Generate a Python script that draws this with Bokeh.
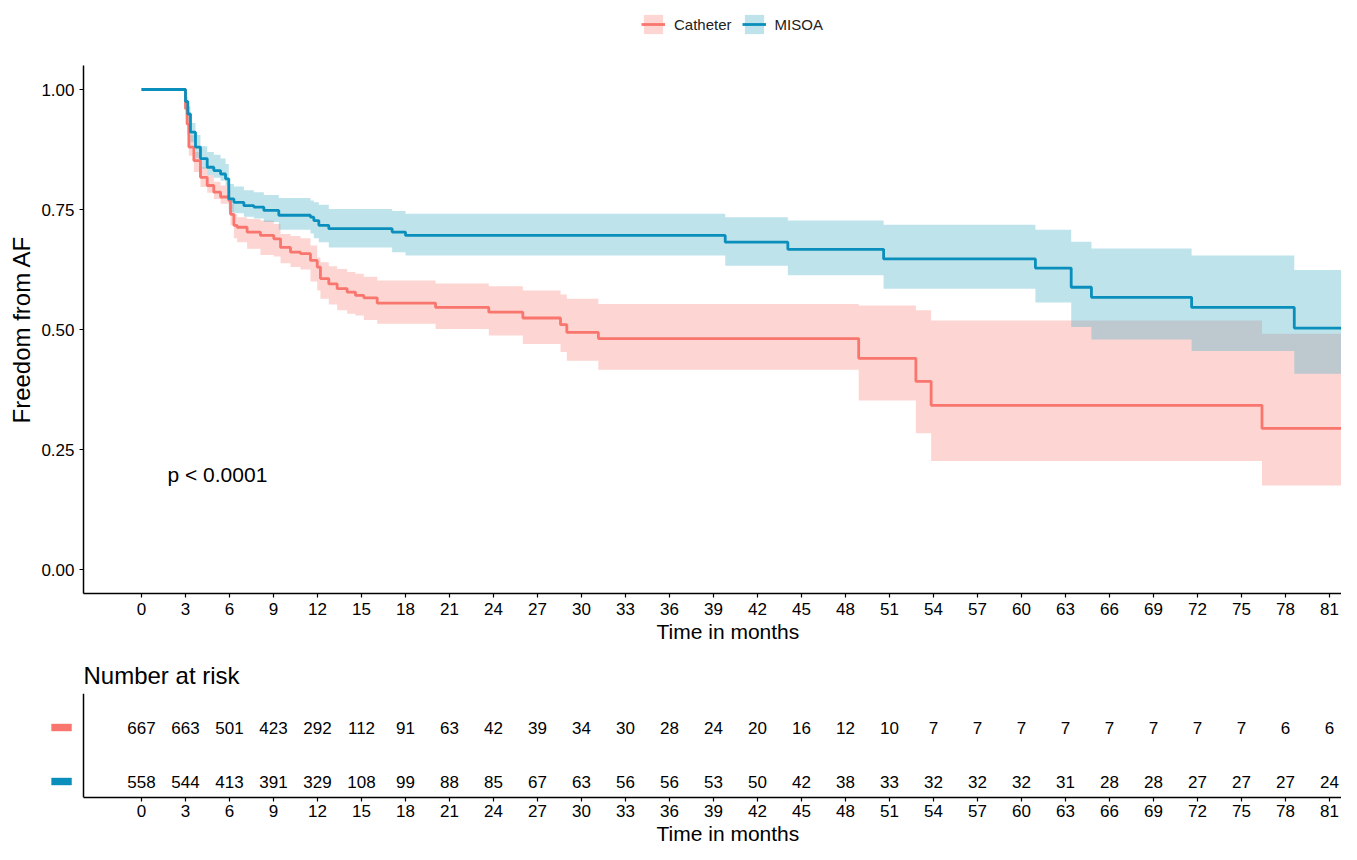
from bokeh.plotting import figure
from bokeh.models import FixedTicker, Legend, LegendItem, Label, Range1d, Span, Title
from bokeh.layouts import column
from bokeh.embed import file_html
from bokeh.resources import INLINE
from bokeh.core.properties import value

FONT = "Liberation Sans"

# ---------------- data ----------------
groups = ["Catheter", "MISOA"]
colors = ["#F8766D", "#0A8FBC"]
band_colors = ["#F8766D", "#4FB3C9"]

cat_time = [0, 3.00, 3.11, 3.23, 3.57, 4.02, 4.48, 4.93, 5.39, 5.95, 6.07, 6.30, 6.52, 7.20,
            8.11, 9.02, 9.48, 10.16, 10.84, 11.52, 11.98, 12.20, 12.77, 13.34, 14.02, 14.59,
            15.16, 16.07, 20.05, 23.68, 26.00, 28.57, 29.00, 31.15, 48.90, 52.80, 53.84, 76.40, 83.0]
cat_surv = [1.000, 0.960, 0.928, 0.880, 0.852, 0.817, 0.800, 0.786, 0.776, 0.769, 0.740, 0.717,
            0.713, 0.703, 0.696, 0.689, 0.671, 0.661, 0.658, 0.644, 0.630, 0.606, 0.595, 0.585,
            0.578, 0.571, 0.566, 0.555, 0.546, 0.536, 0.524, 0.510, 0.494, 0.481, 0.440, 0.392,
            0.342, 0.294, 0.294]
cat_upper = [1.000, 0.975, 0.945, 0.905, 0.870, 0.838, 0.822, 0.808, 0.800, 0.790, 0.762, 0.740,
             0.734, 0.730, 0.727, 0.720, 0.699, 0.695, 0.690, 0.675, 0.650, 0.640, 0.632, 0.626,
             0.620, 0.616, 0.610, 0.602, 0.596, 0.590, 0.581, 0.573, 0.564, 0.553, 0.550, 0.540,
             0.519, 0.491, 0.491]
cat_lower = [1.000, 0.945, 0.905, 0.862, 0.828, 0.797, 0.785, 0.772, 0.762, 0.751, 0.717, 0.690,
             0.682, 0.668, 0.655, 0.652, 0.638, 0.630, 0.625, 0.600, 0.581, 0.564, 0.552, 0.540,
             0.533, 0.529, 0.520, 0.512, 0.501, 0.4875, 0.470, 0.453, 0.435, 0.416, 0.352, 0.284,
             0.226, 0.175, 0.175]

mis_time = [0, 3.00, 3.16, 3.34, 3.68, 4.02, 4.48, 4.93, 5.39, 5.73, 5.95, 6.30, 6.98, 7.66, 8.34,
            9.36, 11.52, 11.75, 12.09, 12.77, 17.09, 18.00, 39.80, 44.07, 50.60, 60.95, 63.39,
            64.77, 71.60, 78.60, 83.0]
mis_surv = [1.000, 0.975, 0.949, 0.911, 0.880, 0.856, 0.838, 0.831, 0.824, 0.814, 0.772, 0.765,
            0.758, 0.755, 0.748, 0.738, 0.734, 0.727, 0.717, 0.710, 0.703, 0.696, 0.682, 0.667,
            0.647, 0.628, 0.588, 0.567, 0.546, 0.503, 0.503]
mis_upper = [1.000, 0.985, 0.965, 0.930, 0.905, 0.882, 0.870, 0.864, 0.856, 0.845, 0.803, 0.798,
             0.790, 0.786, 0.780, 0.774, 0.769, 0.765, 0.760, 0.751, 0.747, 0.741, 0.734, 0.727,
             0.718, 0.708, 0.683, 0.669, 0.654, 0.624, 0.624]
mis_lower = [1.000, 0.962, 0.932, 0.890, 0.858, 0.835, 0.822, 0.816, 0.810, 0.800, 0.745, 0.742,
             0.735, 0.731, 0.724, 0.708, 0.700, 0.690, 0.682, 0.671, 0.661, 0.654, 0.633, 0.613,
             0.585, 0.556, 0.505, 0.479, 0.455, 0.408, 0.408]

risk_times = list(range(0, 82, 3))
cat_risk = [667, 663, 501, 423, 292, 112, 91, 63, 42, 39, 34, 30, 28, 24, 20, 16, 12, 10,
            7, 7, 7, 7, 7, 7, 7, 7, 6, 6]
mis_risk = [558, 544, 413, 391, 329, 108, 99, 88, 85, 67, 63, 56, 56, 53, 50, 42, 38, 33,
            32, 32, 32, 31, 28, 28, 27, 27, 27, 24]
risk_rows = [2, 1]

y_ticks = [0.0, 0.25, 0.5, 0.75, 1.0]
y_tick_labels = ["0.00", "0.25", "0.50", "0.75", "1.00"]
p_text = "p < 0.0001"
x_title = "Time in months"

# ---------------- layout constants ----------------
W = 1341
X0, X1 = -3.955, 81.82          # visible time range of the panels
KEY_X = -5.45                   # risk-table colour keys, left of the axis
LEFT_PX = 83
XTITLE_LEFT_PX = 656            # left edge of the centred x-axis titles


def style_axis(ax, label_size="17px", title_size="21px"):
    ax.axis_line_color = "black"
    ax.axis_line_width = 1.5
    ax.major_tick_line_color = "black"
    ax.major_tick_line_width = 1.2
    ax.major_tick_out = 4
    ax.major_tick_in = 0
    ax.minor_tick_line_color = None
    ax.major_label_text_font = FONT
    ax.major_label_text_font_size = label_size
    ax.major_label_text_color = "black"
    ax.axis_label_text_font = FONT
    ax.axis_label_text_font_size = title_size
    ax.axis_label_text_font_style = "normal"
    ax.axis_label_text_color = "black"


def style_fig(fig):
    fig.xgrid.grid_line_color = None
    fig.ygrid.grid_line_color = None
    fig.outline_line_color = None
    fig.background_fill_color = "white"
    fig.border_fill_color = "white"
    fig.frame_align = False


def add_km(fig, t, s, lo, hi, line_col, band_col, band_alpha):
    band = fig.varea_step(x=t, y1=lo, y2=hi, step_mode="after",
                          fill_color=band_col, fill_alpha=band_alpha)
    line = fig.step(x=t, y=s, mode="after", line_color=line_col, line_width=2.8)
    return band, line


def x_axis_title(offset):
    return Title(text=x_title, align="left", offset=offset, text_font=FONT,
                 text_font_size="21px", text_font_style="normal", text_color="black",
                 standoff=0)


# ---------------- legend strip (keys drawn from the same series, view set off-data) ----
p0 = figure(width=W, height=65, x_range=Range1d(200, 201), y_range=Range1d(0, 1),
            output_backend="svg", toolbar_location=None,
            min_border_left=0, min_border_right=0, min_border_top=0, min_border_bottom=0)
style_fig(p0)
p0.xaxis.visible = False
p0.yaxis.visible = False
k_cat = add_km(p0, cat_time, cat_surv, cat_lower, cat_upper, colors[0], band_colors[0], 0.3)
k_mis = add_km(p0, mis_time, mis_surv, mis_lower, mis_upper, colors[1], band_colors[1], 0.37)
legend = Legend(items=[LegendItem(label=groups[0], renderers=list(k_cat)),
                       LegendItem(label=groups[1], renderers=list(k_mis))],
                orientation="horizontal", location=(641, 29),
                glyph_width=24, glyph_height=24, label_standoff=9, spacing=10,
                padding=0, margin=0, border_line_color=None, background_fill_alpha=0,
                label_text_font=FONT, label_text_font_size="15px", label_text_color="#222222")
p0.add_layout(legend, "center")

# ---------------- main KM plot ----------------
p = figure(width=W, height=580, x_range=Range1d(X0, X1), y_range=Range1d(-0.05, 1.05),
           output_backend="svg", toolbar_location=None,
           min_border_left=LEFT_PX, min_border_right=0, min_border_top=0, min_border_bottom=52)
style_fig(p)
style_axis(p.xaxis[0])
style_axis(p.yaxis[0], title_size="24px")
p.xaxis.ticker = FixedTicker(ticks=risk_times)
p.xaxis.major_label_standoff = 5
p.add_layout(x_axis_title(XTITLE_LEFT_PX - LEFT_PX), "below")
p.yaxis.ticker = FixedTicker(ticks=y_ticks)
p.yaxis.major_label_overrides = {t: l for t, l in zip(y_ticks, y_tick_labels)}
p.yaxis.axis_label = "Freedom from AF"
p.yaxis.major_label_standoff = 5
p.yaxis.axis_label_standoff = 3

b_cat, l_cat = add_km(p, cat_time, cat_surv, cat_lower, cat_upper, colors[0], band_colors[0], 0.3)
b_mis, l_mis = add_km(p, mis_time, mis_surv, mis_lower, mis_upper, colors[1], band_colors[1], 0.37)
# lines above both bands
p.renderers = [b_cat, b_mis, l_cat, l_mis]

p.add_layout(Label(x=1.77, y=0.198, text=p_text, text_font=FONT, text_font_size="21px",
                   text_baseline="middle", text_color="black"))

# ---------------- risk table ----------------
RX0 = X0 - LEFT_PX * (X1 - X0) / (W - LEFT_PX)
p2 = figure(width=W, height=199, x_range=Range1d(RX0, X1), y_range=Range1d(0.704, 2.63),
            output_backend="svg", toolbar_location=None,
            min_border_left=0, min_border_right=0, min_border_top=48, min_border_bottom=47)
style_fig(p2)
style_axis(p2.xaxis[0])
p2.yaxis.visible = False
p2.xaxis.bounds = (X0, X1)
p2.title.text = "Number at risk"
p2.title.text_font = FONT
p2.title.text_font_size = "24px"
p2.title.text_font_style = "normal"
p2.title.text_color = "black"
p2.title.align = "left"
p2.title.offset = LEFT_PX
p2.title.standoff = 9
p2.xaxis.ticker = FixedTicker(ticks=risk_times)
p2.xaxis.major_label_standoff = 3
p2.add_layout(x_axis_title(XTITLE_LEFT_PX), "below")

p2.add_layout(Span(location=X0, dimension="height", line_color="black", line_width=1.5))

p2.text(x=risk_times, y=[risk_rows[0]] * len(risk_times), text=[str(v) for v in cat_risk],
        text_font=value(FONT), text_font_size="17px", text_align="center",
        text_baseline="middle", text_color="black")
p2.text(x=risk_times, y=[risk_rows[1]] * len(risk_times), text=[str(v) for v in mis_risk],
        text_font=value(FONT), text_font_size="17px", text_align="center",
        text_baseline="middle", text_color="black")

p2.rect(x=[KEY_X, KEY_X], y=risk_rows, width=20, height=7, width_units="screen",
        height_units="screen", fill_color=colors, line_color=colors, line_alpha=0.4)

layout = column(p0, p, p2)
open("out.html", "w").write(file_html(layout, INLINE))
